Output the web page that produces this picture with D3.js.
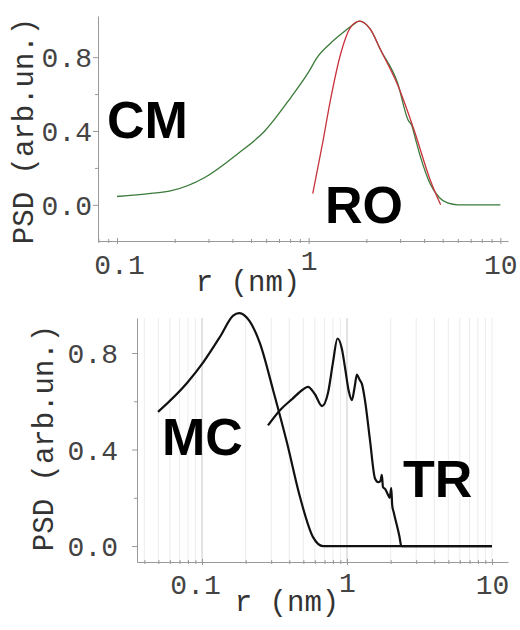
<!DOCTYPE html>
<html>
<head>
<meta charset="utf-8">
<script src="https://cdnjs.cloudflare.com/ajax/libs/d3/7.8.5/d3.min.js"></script>
<style>
  body { margin: 0; background: #fff; }
  text { font-family: "Liberation Mono", "DejaVu Sans Mono", monospace; }
  .big { font-family: "Liberation Sans", Arial, sans-serif; font-weight: bold; }
</style>
</head>
<body>
<svg id="chart"></svg>
<script>
// top panel: CM (green) and RO (red) size distributions
const cmR   = [0.1, 0.15, 0.19, 0.287, 0.427, 0.59, 0.805, 1.0, 1.11, 1.30, 1.54, 1.70, 1.84, 2.1, 2.37, 2.91, 3.3, 3.45, 3.6, 3.83, 4.32, 4.8, 5.3, 6.0, 7.0, 10];
const cmPsd = [0.045, 0.062, 0.075, 0.148, 0.277, 0.40, 0.58, 0.72, 0.80, 0.875, 0.94, 0.975, 0.995, 0.95, 0.84, 0.66, 0.46, 0.43, 0.36, 0.26, 0.11, 0.04, 0.01, 0.0, 0.0, 0.0];
const roR   = [1.05, 1.18, 1.30, 1.47, 1.65, 1.84, 2.1, 2.37, 2.91, 3.56, 4.32, 4.88];
const roPsd = [0.06, 0.33, 0.57, 0.82, 0.96, 0.995, 0.95, 0.84, 0.65, 0.40, 0.13, 0.0];

// bottom panel: MC and TR
const mcR   = [0.0497, 0.0788, 0.1016, 0.133, 0.164, 0.18, 0.204, 0.251, 0.309, 0.386, 0.474, 0.583, 0.683, 0.8, 10];
const mcPsd = [0.556, 0.676, 0.76, 0.867, 0.955, 0.965, 0.946, 0.84, 0.647, 0.427, 0.203, 0.037, 0.0, 0.0, 0.0];
const trR   = [0.285, 0.345, 0.42, 0.50, 0.538, 0.60, 0.673, 0.74, 0.80, 0.86, 0.92, 0.969, 1.03, 1.08, 1.13, 1.17, 1.22, 1.27, 1.33, 1.44, 1.56, 1.64, 1.70, 1.74, 1.77, 1.84, 1.91, 1.97, 2.02, 2.05, 2.10, 2.2, 2.3, 2.37, 10];
const trPsd = [0.50, 0.563, 0.61, 0.65, 0.66, 0.63, 0.58, 0.635, 0.76, 0.86, 0.82, 0.74, 0.64, 0.605, 0.66, 0.71, 0.69, 0.67, 0.605, 0.44, 0.28, 0.265, 0.27, 0.295, 0.245, 0.235, 0.215, 0.20, 0.24, 0.17, 0.14, 0.09, 0.04, 0.0, 0.0];

const xMajor = [0.1, 1, 10];
const xMajorLabels = ['0.1', '1', '10'];
const yMajor = [0, 0.4, 0.8];
const yMinor = [0.2, 0.6];
const minorTop = [0.08, 0.09, 0.2, 0.3, 0.4, 0.5, 0.6, 0.7, 0.8, 0.9, 2, 3, 4, 5, 6, 7, 8, 9];
const minorBot = [0.04, 0.05, 0.06, 0.07, 0.08, 0.09, 0.2, 0.3, 0.4, 0.5, 0.6, 0.7, 0.8, 0.9, 2, 3, 4, 5, 6, 7, 8, 9];

const width = 520, height = 630;
const svg = d3.select('#chart').attr('width', width).attr('height', height);

const zip = (a, b) => a.map((v, i) => [v, b[i]]);

function panel(opt) {
  const x = d3.scaleLog().domain([opt.xmin, opt.xmax]).range([opt.left, opt.right]);
  const y = d3.scaleLinear().domain([opt.ymin, opt.ymax]).range([opt.bottom, opt.top]);
  const g = svg.append('g');

  if (opt.grid) {
    g.selectAll('.grid').data(opt.minor.concat(xMajor)).enter().append('line')
      .attr('x1', d => x(d)).attr('x2', d => x(d))
      .attr('y1', opt.top).attr('y2', opt.bottom)
      .attr('stroke', d => (d === 0.1 || d === 1) ? '#c8c8c8' : '#ececec')
      .attr('stroke-width', 1);
  }

  // x axis
  const xa = g.append('g').attr('transform', `translate(0,${opt.bottom})`)
    .call(d3.axisBottom(x).tickValues(xMajor).tickFormat((d, i) => xMajorLabels[i]).tickSize(4).tickSizeOuter(0));
  const xm = g.append('g').attr('transform', `translate(0,${opt.bottom})`)
    .call(d3.axisBottom(x).tickValues(opt.minor).tickFormat('').tickSize(2).tickSizeOuter(0));
  xm.select('.domain').remove();
  xm.selectAll('line').attr('y1', -2).attr('y2', 2).attr('stroke', '#999');
  xa.select('.domain').attr('stroke', '#999');
  xa.selectAll('line').attr('y1', -3).attr('y2', 3).attr('stroke', '#999');
  xa.selectAll('text').attr('font-size', 28).attr('fill', '#444')
    .attr('font-family', '"Liberation Mono", monospace')
    .attr('y', opt.xLabelDy)
    .attr('dy', d => d === 1 ? opt.oneDy : 0)
    .attr('dx', d => d === 0.1 ? opt.pointOneDx : 0)
    .attr('dominant-baseline', 'middle');

  // y axis
  const ya = g.append('g').attr('transform', `translate(${opt.left},0)`)
    .call(d3.axisLeft(y).tickValues(yMajor).tickFormat(d3.format('.1f')).tickSize(5).tickSizeOuter(0));
  ya.select('.domain').attr('stroke', '#999');
  ya.selectAll('line').attr('stroke', '#999');
  ya.selectAll('text').attr('font-size', 28).attr('fill', '#444')
    .attr('font-family', '"Liberation Mono", monospace')
    .attr('x', -opt.yLabelGap).attr('dy', '0.35em');
  const ym = g.append('g').attr('transform', `translate(${opt.left},0)`)
    .call(d3.axisLeft(y).tickValues(yMinor).tickFormat('').tickSize(3).tickSizeOuter(0));
  ym.select('.domain').remove();
  ym.selectAll('line').attr('stroke', '#999');

  // axis titles
  g.append('text').attr('x', opt.rLabel[0]).attr('y', opt.rLabel[1])
    .attr('text-anchor', 'middle').attr('dominant-baseline', 'middle')
    .attr('font-size', 29).attr('fill', '#333').text('r (nm)');
  g.append('text')
    .attr('transform', `translate(${opt.psdLabel[0]},${opt.psdLabel[1]}) rotate(-90)`)
    .attr('text-anchor', 'middle').attr('dominant-baseline', 'middle')
    .attr('font-size', 29).attr('fill', '#333').text('PSD (arb.un.)');

  const line = d3.line().x(d => x(d[0])).y(d => y(d[1])).curve(d3.curveMonotoneX);
  opt.series.forEach(s => {
    g.append('path').datum(zip(s.r, s.v))
      .attr('d', line).attr('fill', 'none')
      .attr('stroke', s.color).attr('stroke-width', s.w)
      .attr('stroke-linejoin', 'round');
  });

  opt.tags.forEach(t => {
    g.append('text').attr('class', 'big').attr('x', t[1]).attr('y', t[2])
      .attr('font-size', 52).attr('fill', '#000').text(t[0]);
  });
}

panel({
  xmin: 0.0796, xmax: 10.96, left: 98, right: 508,
  ymin: -0.196, ymax: 1.023, top: 16, bottom: 241,
  minor: minorTop, grid: false,
  xLabelDy: 26, oneDy: -4, pointOneDx: 2, yLabelGap: 6,
  rLabel: [248, 283], psdLabel: [25, 131],
  series: [
    { r: cmR, v: cmPsd, color: '#3a7a3a', w: 1.3 },
    { r: roR, v: roPsd, color: '#c8323c', w: 1.3 }
  ],
  tags: [['CM', 107, 138], ['RO', 325, 223]]
});

panel({
  xmin: 0.0356, xmax: 12.9, left: 137, right: 508,
  ymin: -0.066, ymax: 0.945, top: 318, bottom: 562,
  minor: minorBot, grid: true,
  xLabelDy: 25, oneDy: -2, pointOneDx: -7, yLabelGap: 19,
  rLabel: [287, 603], psdLabel: [45, 438],
  series: [
    { r: mcR, v: mcPsd, color: '#111', w: 2.2 },
    { r: trR, v: trPsd, color: '#111', w: 2.2 }
  ],
  tags: [['MC', 162, 455], ['TR', 403, 497]]
});
</script>
</body>
</html>
